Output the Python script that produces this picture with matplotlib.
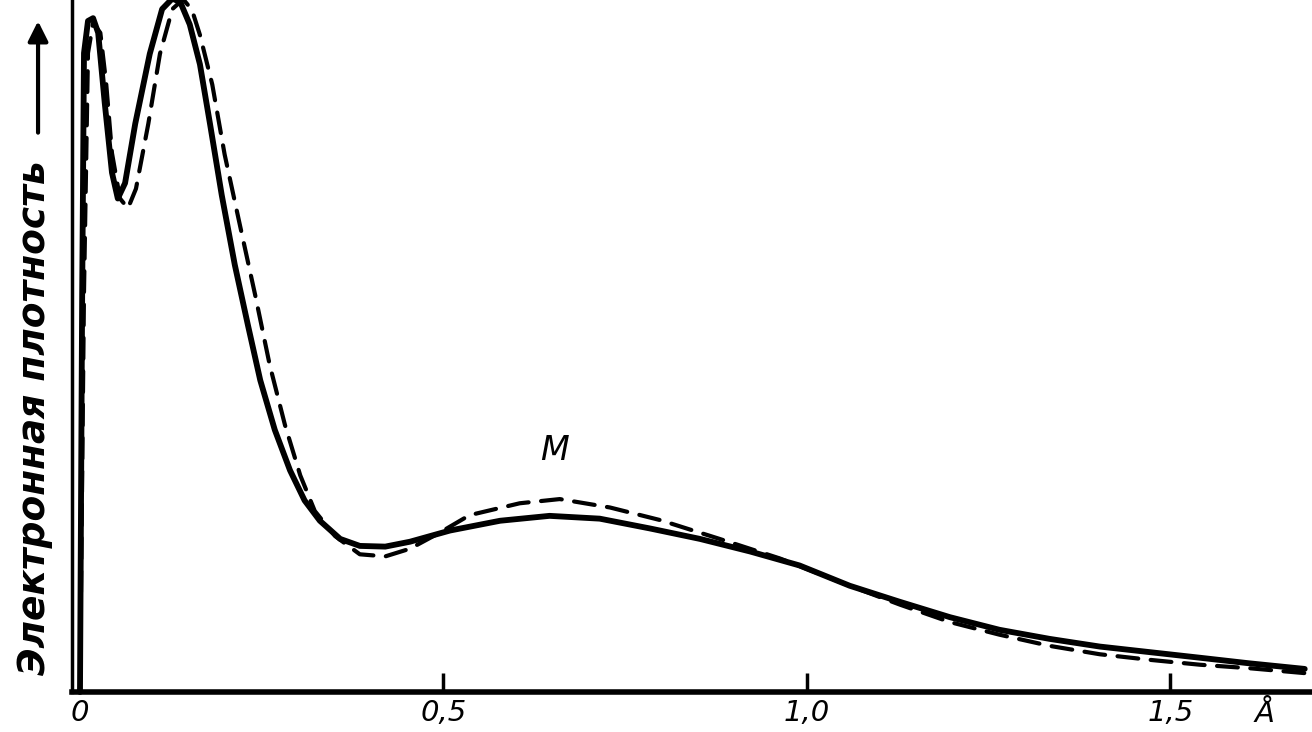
import matplotlib
matplotlib.use("Agg")
import matplotlib.pyplot as plt

# distance r (Angstrom) and electron density (arbitrary units)
r_solid = [0.000, 0.003, 0.0055, 0.011, 0.018, 0.025, 0.034, 0.044, 0.052, 0.062,
           0.076, 0.096, 0.113, 0.127, 0.138, 0.151, 0.165, 0.179, 0.195, 0.213,
           0.231, 0.248, 0.268, 0.289, 0.309, 0.330, 0.358, 0.385, 0.420, 0.454,
           0.509, 0.578, 0.646, 0.715, 0.784, 0.853, 0.922, 0.990, 1.059, 1.128,
           1.197, 1.265, 1.334, 1.403, 1.472, 1.541, 1.609, 1.685]
rho_solid = [0.0, 57.1, 91.4, 96.0, 96.4, 94.3, 84.3, 74.3, 70.6, 72.8,
             81.3, 91.3, 97.7, 99.2, 98.7, 95.5, 89.8, 81.2, 71.1, 61.1,
             52.5, 44.6, 37.5, 31.7, 27.4, 24.5, 21.9, 20.9, 20.8, 21.5,
             23.1, 24.5, 25.2, 24.8, 23.4, 21.9, 20.1, 18.1, 15.2, 12.9,
             10.7, 8.9, 7.6, 6.5, 5.7, 4.9, 4.1, 3.3]

r_dash = [0.000, 0.0055, 0.011, 0.018, 0.028, 0.036, 0.044, 0.055, 0.066, 0.077,
          0.094, 0.110, 0.127, 0.142, 0.154, 0.165, 0.182, 0.199, 0.220, 0.241,
          0.261, 0.282, 0.303, 0.323, 0.351, 0.385, 0.420, 0.454, 0.495, 0.536,
          0.605, 0.660, 0.729, 0.798, 0.880, 0.963, 1.059, 1.128, 1.197, 1.265,
          1.334, 1.403, 1.472, 1.541, 1.609, 1.685]
rho_dash = [0.0, 57.1, 91.4, 95.7, 94.3, 87.1, 77.1, 70.6, 69.2, 72.0,
            81.3, 91.3, 97.7, 99.1, 97.6, 94.0, 86.9, 76.9, 66.8, 56.8,
            46.8, 38.2, 31.0, 25.9, 22.3, 19.7, 19.4, 20.5, 22.8, 25.3,
            27.0, 27.6, 26.4, 24.6, 21.9, 19.1, 15.2, 12.5, 10.0, 8.2,
            6.6, 5.4, 4.6, 3.9, 3.4, 2.7]

tick_pos = [0.0, 0.5, 1.0, 1.5]
tick_labels = ["0", "0,5", "1,0", "1,5"]

fig = plt.figure(figsize=(13.12, 7.32), dpi=100)
ax = fig.add_axes([72 / 1312, 40 / 732, 1 - 72 / 1312, 692 / 732])

ax.plot(r_solid, rho_solid, color="black", lw=4.2, solid_capstyle="round",
        solid_joinstyle="round", clip_on=False)
ax.plot(r_dash, rho_dash, color="black", lw=3.0, dashes=(5, 3),
        dash_capstyle="round", clip_on=False)

ax.set_xlim(-0.011, 1.695)
ax.set_ylim(0, 99)

for s in ["top", "right"]:
    ax.spines[s].set_visible(False)
ax.spines["left"].set_linewidth(2.5)
ax.spines["bottom"].set_linewidth(4)

ax.set_yticks([])
ax.set_xticks(tick_pos)
ax.set_xticklabels(tick_labels, fontsize=21, style="italic", family="DejaVu Sans")
ax.tick_params(axis="x", direction="in", length=14, width=2.5, pad=5)
ax.xaxis.get_major_ticks()[0].tick1line.set_visible(False)

ax.text(1.63, -0.012, "Å", transform=ax.get_xaxis_transform(), fontsize=21,
        style="italic", ha="center", va="top")
ax.text(0.653, 34.5, "M", fontsize=24, style="italic", ha="center", va="center")

fig.text(0.027, 0.43, "Электронная плотность", rotation=90, fontsize=27,
         style="italic", fontweight="bold", ha="center", va="center")
ax.annotate("", xy=(0.029, 0.975), xytext=(0.029, 0.815), xycoords="figure fraction",
            arrowprops=dict(arrowstyle="-|>", lw=3, color="black", mutation_scale=30))

fig.savefig("out.png", dpi=100, facecolor="white")
